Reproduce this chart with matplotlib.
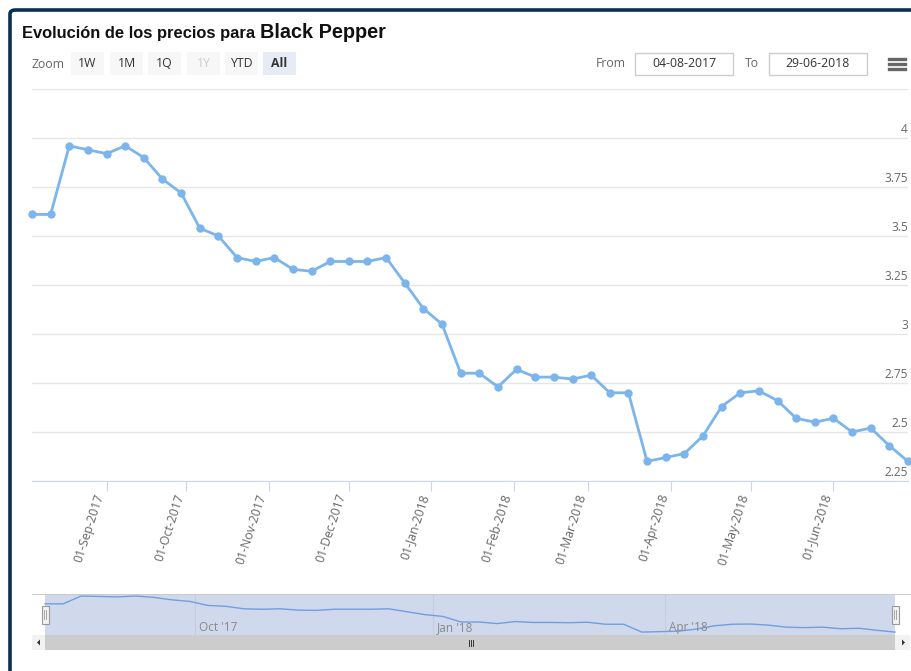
import matplotlib
matplotlib.use("Agg")
import matplotlib.pyplot as plt
import matplotlib.dates as mdates
from matplotlib.patches import Rectangle, FancyBboxPatch, Polygon
import pandas as pd

# weekly prices, 04-08-2017 .. 29-06-2018
dates = pd.date_range("2017-08-04", periods=48, freq="7D")
prices = [3.61, 3.61, 3.96, 3.94, 3.92, 3.96, 3.90, 3.79, 3.72, 3.54,
          3.50, 3.39, 3.37, 3.39, 3.33, 3.32, 3.37, 3.37, 3.37, 3.39,
          3.26, 3.13, 3.05, 2.80, 2.80, 2.73, 2.82, 2.78, 2.78, 2.77,
          2.79, 2.70, 2.70, 2.35, 2.37, 2.39, 2.48, 2.63, 2.70, 2.71,
          2.66, 2.57, 2.55, 2.57, 2.50, 2.52, 2.43, 2.35]
y_ticks = [2.25, 2.5, 2.75, 3, 3.25, 3.5, 3.75, 4]
y_tick_labels = ["2.25", "2.5", "2.75", "3", "3.25", "3.5", "3.75", "4"]
x_ticks = pd.date_range("2017-09-01", "2018-06-01", freq="MS")
nav_ticks = pd.to_datetime(["2017-10-01", "2018-01-01", "2018-04-01"])
zoom_buttons = ["1W", "1M", "1Q", "1Y", "YTD", "All"]
date_from, date_to = "04-08-2017", "29-06-2018"

W, H = 912, 671
fig = plt.figure(figsize=(W / 100, H / 100), dpi=100)
FONT = "Open Sans"


def px_axes(x0, y0, x1, y1):
    return fig.add_axes([x0 / W, 1 - y1 / H, (x1 - x0) / W, (y1 - y0) / H])


def fx(x):
    return x / W


def fy(y):
    return 1 - y / H


# outer frame (top / left visible)
fig.patches.append(FancyBboxPatch((fx(10), fy(700)), fx(960), fy(10) - fy(700),
                                  boxstyle="round,pad=0,rounding_size=0.006",
                                  transform=fig.transFigure, fill=False,
                                  edgecolor="#0d2d52", linewidth=2.6))

# title
t1 = fig.text(fx(22), fy(38), "Evolución de los precios para ", fontsize=11.9,
              fontweight="bold", family="Liberation Sans", color="#111111")
fig.canvas.draw()
bb = t1.get_window_extent()
fig.text(bb.x1 / W, fy(38), "Black Pepper", fontsize=14.3,
         fontweight="bold", family="Liberation Sans", color="#111111")

# zoom buttons
fig.text(fx(32), fy(64), "Zoom", fontsize=8.8, color="#666666", family=FONT,
         va="center")
bx = [71, 110, 148, 187, 225, 263]
for i, lab in enumerate(zoom_buttons):
    selected = lab == "All"
    disabled = lab == "1Y"
    fc = "#e6ebf5" if selected else "#f7f7f7"
    fig.patches.append(Rectangle((fx(bx[i]), fy(75)), fx(33), fy(52) - fy(75),
                                 transform=fig.transFigure, facecolor=fc,
                                 edgecolor="none"))
    fig.text(fx(bx[i] + 16.5), fy(63.5), lab, fontsize=8.8, family=FONT,
             ha="center", va="center",
             color="#cccccc" if disabled else "#333333",
             fontweight="bold" if selected else "normal")

# From / To boxes
fig.text(fx(596), fy(63.5), "From", fontsize=8.8, color="#666666", family=FONT,
         va="center")
fig.text(fx(745), fy(63.5), "To", fontsize=8.8, color="#666666", family=FONT,
         va="center")
for x0, txt in [(635, date_from), (769, date_to)]:
    fig.patches.append(Rectangle((fx(x0), fy(75)), fx(98), fy(53) - fy(75),
                                 transform=fig.transFigure, facecolor="white",
                                 edgecolor="#cccccc", linewidth=1))
    fig.text(fx(x0 + 49), fy(63.5), txt, fontsize=8.8, color="#333333",
             family=FONT, ha="center", va="center")
for yy in [59, 64, 69]:
    fig.lines.append(plt.Line2D([fx(889), fx(905)], [fy(yy), fy(yy)],
                                transform=fig.transFigure, color="#666666",
                                linewidth=2.4))

# main chart
ax = px_axes(32, 89, 908, 481)
ax.plot(dates, prices, color="#7cb5ec", linewidth=2, marker="o",
        markersize=5, clip_on=False, zorder=3)
ax.set_xlim(dates[0], dates[-1])
ax.set_ylim(2.25, 4.25)
ax.set_yticks(y_ticks + [4.25])
ax.yaxis.grid(True, color="#e6e6e6", linewidth=1)
ax.tick_params(axis="y", length=0, labelleft=False)
for v, lab in zip(y_ticks, y_tick_labels):
    ax.annotate(lab, xy=(1.0, v), xycoords=ax.get_yaxis_transform(),
                xytext=(0, 1.2), textcoords="offset points", ha="right",
                va="bottom", fontsize=8.6, color="#666666", family=FONT)
for s in ["top", "left", "right"]:
    ax.spines[s].set_visible(False)
ax.spines["bottom"].set_color("#ccd6eb")
ax.set_xticks(x_ticks)
ax.set_xticklabels([d.strftime("%d-%b-%Y") for d in x_ticks], rotation=72,
                   ha="right", va="top", fontsize=8.8, color="#666666",
                   family=FONT)
ax.tick_params(axis="x", length=7, color="#ccd6eb", pad=1)
ax.set_axisbelow(True)

# navigator
n0, n1 = 45, 895
days = (dates[-1] - dates[0]).days
per_px = days / (n1 - n0)
nav = px_axes(32, 594, 910, 635)
nav.set_xlim(mdates.date2num(dates[0]) - 13 * per_px,
             mdates.date2num(dates[-1]) + 15 * per_px)
nav.set_ylim(min(prices) - 0.13, max(prices) + 0.09)
nav.axvspan(dates[0], dates[-1], color="#d0d9ec", zorder=0, linewidth=0)
for d in nav_ticks:
    nav.axvline(d, color="#c3cce0", linewidth=0.8, zorder=1)
    nav.annotate(d.strftime("%b '%y"), xy=(mdates.date2num(d), 0),
                 xycoords=("data", "axes fraction"), xytext=(3, 3),
                 textcoords="offset points", fontsize=8.5, color="#888888",
                 family=FONT)
nav.plot(dates, prices, color="#6f9fe0", linewidth=1, zorder=2)
nav.set_xticks([])
nav.set_yticks([])
for s in ["left", "right", "bottom"]:
    nav.spines[s].set_visible(False)
nav.spines["top"].set_color("#cccccc")
for hx in [mdates.date2num(dates[0]), mdates.date2num(dates[-1])]:
    nav.add_patch(Rectangle((hx - 3.5 * per_px, 0.28), 7 * per_px, 0.42,
                            transform=nav.get_xaxis_transform(),
                            facecolor="#f2f2f2", edgecolor="#999999",
                            linewidth=0.8, zorder=4, clip_on=False))
    for dx in [-1, 1]:
        nav.plot([hx + dx * per_px] * 2, [0.38, 0.6], color="#999999",
                 linewidth=0.6, transform=nav.get_xaxis_transform(),
                 zorder=5, clip_on=False)

# scrollbar
sb = px_axes(32, 635, 910, 650)
sb.set_xlim(0, 878)
sb.set_ylim(0, 1)
sb.axis("off")
sb.add_patch(Rectangle((0, 0), 878, 1, facecolor="#f2f2f2", edgecolor="none"))
sb.add_patch(Rectangle((n0 - 32, 0), n1 - n0, 1, facecolor="#cccccc",
                       edgecolor="none"))
sb.add_patch(Polygon([[8, 0.3], [5, 0.5], [8, 0.7]], closed=True,
                     facecolor="#333333", edgecolor="none"))
sb.add_patch(Polygon([[870, 0.3], [873, 0.5], [870, 0.7]], closed=True,
                     facecolor="#333333", edgecolor="none"))
for gx in [-2, 0, 2]:
    sb.plot([439 + gx] * 2, [0.3, 0.7], color="#333333", linewidth=0.7)

fig.savefig("out.png", dpi=100)
